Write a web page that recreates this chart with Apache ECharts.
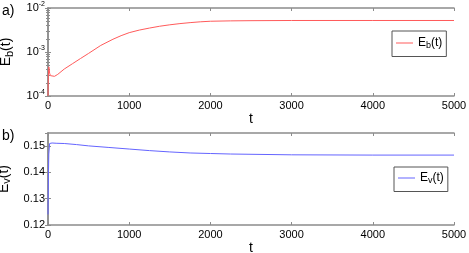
<!DOCTYPE html>
<html><head><meta charset="utf-8">
<script src="https://cdn.jsdelivr.net/npm/echarts@6/dist/echarts.min.js"></script>
<style>html,body{margin:0;padding:0;background:#fff}#c{width:469px;height:253px}</style>
</head><body><div id="c"></div>
<script>
// ---- data ----
const tTop = [0, 5, 10, 15, 20, 30, 50, 80, 120, 200, 300, 400, 500, 650, 800, 900, 1000, 1125, 1250, 1375, 1500, 1625, 1750, 1875, 2000, 2250, 2500, 3000, 4000, 5000];
const ebValues = [1.0e-4, 3.0e-4, 4.6e-4, 4.0e-4, 3.3e-4, 2.9e-4, 2.7e-4, 2.8e-4, 3.1e-4, 4.1e-4, 5.4e-4, 7.1e-4, 9.3e-4, 1.41e-3, 1.95e-3, 2.35e-3, 2.75e-3, 3.15e-3, 3.5e-3, 3.85e-3, 4.15e-3, 4.42e-3, 4.65e-3, 4.85e-3, 5.0e-3, 5.1e-3, 5.15e-3, 5.2e-3, 5.2e-3, 5.2e-3];
const tBot = [0, 5, 10, 20, 30, 50, 100, 200, 350, 500, 750, 1000, 1250, 1500, 1750, 2000, 2250, 2500, 3000, 4000, 5000];
const evValues = [0.124, 0.138, 0.147, 0.151, 0.1512, 0.1512, 0.1511, 0.151, 0.1506, 0.1501, 0.1495, 0.1489, 0.1483, 0.1478, 0.1474, 0.1472, 0.147, 0.1469, 0.1467, 0.1466, 0.1466];
const xTicks = [0, 1000, 2000, 3000, 4000, 5000];
const evTicks = [0.12, 0.13, 0.14, 0.15];
const ebTicks = [1e-4, 1e-3, 1e-2];

const FONT = 'Liberation Sans';
const AX = '#8c8c8c';
const chart = echarts.init(document.getElementById('c'));

function xAx(gi, pos, labels) {
  return {
    type: 'value', gridIndex: gi, position: pos, min: xTicks[0], max: xTicks[xTicks.length-1], interval: 1000,
    axisLine: {show: true, lineStyle: {color: AX, width: 1.5}},
    axisTick: {show: true, inside: true, length: 3, lineStyle: {color: AX}},
    axisLabel: {show: labels, color: '#000', fontFamily: FONT, fontSize: 11, margin: 4, formatter: v => String(v)},
    splitLine: {show: false},
    name: labels ? 't' : '', nameLocation: 'middle', nameGap: 15,
    nameTextStyle: {color: '#000', fontFamily: FONT, fontSize: 14}
  };
}
const supRich = {
  base: {fontFamily: FONT, fontSize: 11, color: '#000'},
  sup: {fontFamily: FONT, fontSize: 7, color: '#000', padding: [0, 0, 8, 0]}
};
const nameRich = {
  sub: {fontFamily: FONT, fontSize: 11, color: '#000', padding: [7, 0, 0, 0]}
};
const legRich = {sub: {fontFamily: FONT, fontSize: 9, color: '#000', padding: [6, 0, 0, 0]}};

const option = {
  animation: false,
  grid: [
    {left: 48, top: 8, right: 15, height: 88, containLabel: false, outerBoundsMode: 'none'},
    {left: 48, top: 133, right: 15, height: 92, containLabel: false, outerBoundsMode: 'none'}
  ],
  xAxis: [xAx(0, 'bottom', true), xAx(0, 'top', false), xAx(1, 'bottom', true), xAx(1, 'top', false)],
  yAxis: [
    {type: 'log', logBase: 10, gridIndex: 0, position: 'left', min: ebTicks[0], max: ebTicks[2],
     axisLine: {show: true, lineStyle: {color: AX, width: 1.5}},
     axisTick: {show: true, inside: true, length: 3, lineStyle: {color: AX}},
     minorTick: {show: true, splitNumber: 9, length: 2, lineStyle: {color: AX}},
     axisLabel: {color: '#000', margin: 3, formatter: v => '{base|10}{sup|' + Math.round(Math.log10(v)) + '}', rich: supRich},
     splitLine: {show: false},
     name: 'E{sub|b}(t)', nameLocation: 'middle', nameRotate: 90, nameGap: 29,
     nameTextStyle: {color: '#000', fontFamily: FONT, fontSize: 14, rich: nameRich}},
    {type: 'log', logBase: 10, gridIndex: 0, position: 'right', min: ebTicks[0], max: ebTicks[2],
     axisLine: {show: true, lineStyle: {color: AX, width: 1.5}},
     axisTick: {show: true, inside: true, length: 3, lineStyle: {color: AX}},
     minorTick: {show: true, splitNumber: 9, length: 2, lineStyle: {color: AX}},
     axisLabel: {show: false}, splitLine: {show: false}},
    {type: 'value', gridIndex: 1, position: 'left', min: evTicks[0], max: 0.155, interval: 0.01,
     axisLine: {show: true, lineStyle: {color: AX, width: 1.5}},
     axisTick: {show: true, inside: true, length: 3, lineStyle: {color: AX}},
     axisLabel: {color: '#000', fontFamily: FONT, fontSize: 11, margin: 3, showMaxLabel: false,
       formatter: v => v.toFixed(2)},
     splitLine: {show: false},
     name: 'E{sub|v}(t)', nameLocation: 'middle', nameRotate: 90, nameGap: 29,
     nameTextStyle: {color: '#000', fontFamily: FONT, fontSize: 14, rich: nameRich}},
    {type: 'value', gridIndex: 1, position: 'right', min: evTicks[0], max: 0.155, interval: 0.01,
     axisLine: {show: true, lineStyle: {color: AX, width: 1.5}},
     axisTick: {show: true, inside: true, length: 3, lineStyle: {color: AX}},
     axisLabel: {show: false}, splitLine: {show: false}}
  ],
  legend: [
    {left: 392, top: 31, orient: 'vertical', data: ['Eb'], icon: 'rect',
     itemWidth: 17, itemHeight: 1, itemGap: 0, padding: [6, 4, 6, 4],
     borderColor: '#555', borderWidth: 1, backgroundColor: '#fff', borderRadius: 0,
     formatter: () => 'E{sub|b}(t)',
     textStyle: {color: '#000', fontFamily: FONT, fontSize: 12, rich: legRich}},
    {left: 394, top: 167, orient: 'vertical', data: ['Ev'], icon: 'rect',
     itemWidth: 17, itemHeight: 1, itemGap: 0, padding: [5, 4, 6, 4],
     borderColor: '#555', borderWidth: 1, backgroundColor: '#fff', borderRadius: 0,
     formatter: () => 'E{sub|v}(t)',
     textStyle: {color: '#000', fontFamily: FONT, fontSize: 12, rich: legRich}}
  ],
  graphic: [
    {type: 'text', left: 2, top: 4, style: {text: 'a)', font: '14px "Liberation Sans"', fill: '#000'}},
    {type: 'text', left: 2, top: 129, style: {text: 'b)', font: '14px "Liberation Sans"', fill: '#000'}}
  ],
  series: [
    {name: 'Eb', type: 'line', xAxisIndex: 0, yAxisIndex: 0, showSymbol: false, symbol: 'none',
     lineStyle: {color: '#ff5a5a', width: 1}, itemStyle: {color: '#ff5a5a'},
     data: tTop.map((t, i) => [t, ebValues[i]])},
    {name: 'Ev', type: 'line', xAxisIndex: 2, yAxisIndex: 2, showSymbol: false, symbol: 'none',
     lineStyle: {color: '#6464ff', width: 1}, itemStyle: {color: '#6464ff'},
     data: tBot.map((t, i) => [t, evValues[i]])}
  ]
};
chart.setOption(option);
</script></body></html>
